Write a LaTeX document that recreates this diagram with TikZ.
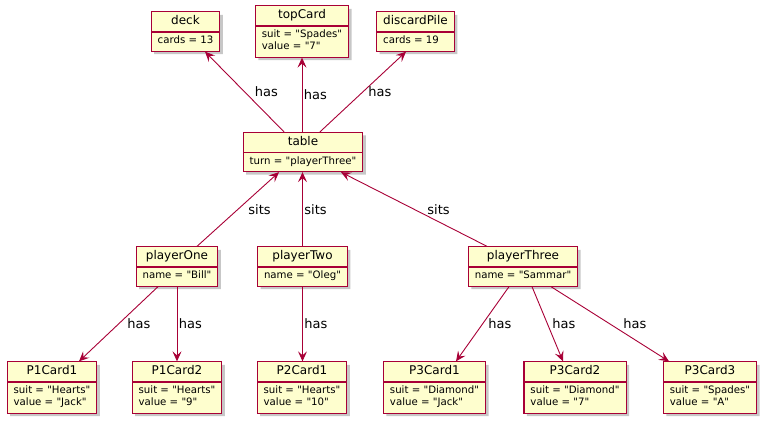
\documentclass[tikz,border=0pt]{standalone}
\usepackage{fontspec}
\setmainfont{DejaVu Sans}[Ligatures=TeXOff]
\usetikzlibrary{shapes.multipart,shadows,arrows.meta}
\definecolor{umlfill}{HTML}{FEFECE}
\definecolor{umlline}{HTML}{A80036}
\newcommand{\objname}[1]{\fontsize{12}{13}\selectfont\strut #1}
\newcommand{\objattr}[1]{\fontsize{10.2}{12}\selectfont\begin{tabular}{@{}l@{}}#1\end{tabular}}
\begin{document}
\begin{tikzpicture}[x=1pt,y=-1pt,
  obj/.style={rectangle split,rectangle split parts=2,rectangle split part align={center,left},
    draw=umlline,line width=1.1pt,fill=umlfill,inner xsep=6.5pt,inner ysep=3pt,
    drop shadow={shadow xshift=3pt,shadow yshift=-3pt,fill=black,opacity=0.22}},
  link/.style={->,>={Stealth[length=10pt,width=9pt,inset=4pt]},draw=umlline,line width=0.9pt},
  lbl/.style={font=\fontsize{13}{15}\selectfont,inner sep=0pt,text=black}]
\useasboundingbox (0,0) rectangle (770,425);
% objects
\node[obj] (deck) at (185.5,31.5) {\objname{deck}\nodepart{two}\objattr{cards = 13}};
\node[obj] (topCard) at (302,31.5) {\objname{topCard}\nodepart{two}\objattr{suit = "Spades"\\value = "7"}};
\node[obj] (discardPile) at (415.5,31.5) {\objname{discardPile}\nodepart{two}\objattr{cards = 19}};
\node[obj] (table) at (303,152) {\objname{table}\nodepart{two}\objattr{turn = "playerThree"}};
\node[obj] (playerOne) at (177,266.5) {\objname{playerOne}\nodepart{two}\objattr{name = "Bill"}};
\node[obj] (playerTwo) at (302.5,266.5) {\objname{playerTwo}\nodepart{two}\objattr{name = "Oleg"}};
\node[obj] (playerThree) at (523,266.5) {\objname{playerThree}\nodepart{two}\objattr{name = "Sammar"}};
\node[obj] (P1Card1) at (52,387.5) {\objname{P1Card1}\nodepart{two}\objattr{suit = "Hearts"\\value = "Jack"}};
\node[obj] (P1Card2) at (177,387.5) {\objname{P1Card2}\nodepart{two}\objattr{suit = "Hearts"\\value = "9"}};
\node[obj] (P2Card1) at (302,387.5) {\objname{P2Card1}\nodepart{two}\objattr{suit = "Hearts"\\value = "10"}};
\node[obj] (P3Card1) at (434.5,387.5) {\objname{P3Card1}\nodepart{two}\objattr{suit = "Diamond"\\value = "Jack"}};
\node[obj] (P3Card2) at (575,387.5) {\objname{P3Card2}\nodepart{two}\objattr{suit = "Diamond"\\value = "7"}};
\node[obj] (P3Card3) at (710,387.5) {\objname{P3Card3}\nodepart{two}\objattr{suit = "Spades"\\value = "A"}};
% table has
\draw[link] ([xshift=-19pt]table.north) -- node[lbl,midway,right=10pt]{has} ([xshift=19.5pt]deck.south);
\draw[link] (topCard.south |- table.north) -- node[lbl,midway,right=1.5pt]{has} (topCard.south);
\draw[link] ([xshift=17pt]table.north) -- node[lbl,midway,right=5pt]{has} ([xshift=-9.5pt]discardPile.south);
% players sit
\draw[link] ([xshift=20pt]playerOne.north) -- node[lbl,midway,right=10pt]{sits} ([xshift=-24pt]table.south);
\draw[link] (playerTwo.north) -- node[lbl,midway,right=1.5pt]{sits} (playerTwo.north |- table.south);
\draw[link] ([xshift=-36pt]playerThree.north) -- node[lbl,midway,right=13pt]{sits} ([xshift=38pt]table.south);
% cards
\draw[link] ([xshift=-19pt]playerOne.south) -- node[lbl,midway,right=8.5pt]{has} ([xshift=27pt]P1Card1.north);
\draw[link] (playerOne.south) -- node[lbl,midway,right=1.5pt]{has} (P1Card2.north);
\draw[link] (playerTwo.south) -- node[lbl,midway,right=1.5pt]{has} (playerTwo.south |- P2Card1.north);
\draw[link] ([xshift=-14pt]playerThree.south) -- node[lbl,midway,right=5.5pt]{has} ([xshift=21.5pt]P3Card1.north);
\draw[link] ([xshift=9pt]playerThree.south) -- node[lbl,midway,right=4.5pt]{has} ([xshift=-12pt]P3Card2.north);
\draw[link] ([xshift=28pt]playerThree.south) -- node[lbl,midway,right=13pt]{has} ([xshift=-41pt]P3Card3.north);
\end{tikzpicture}
\end{document}
